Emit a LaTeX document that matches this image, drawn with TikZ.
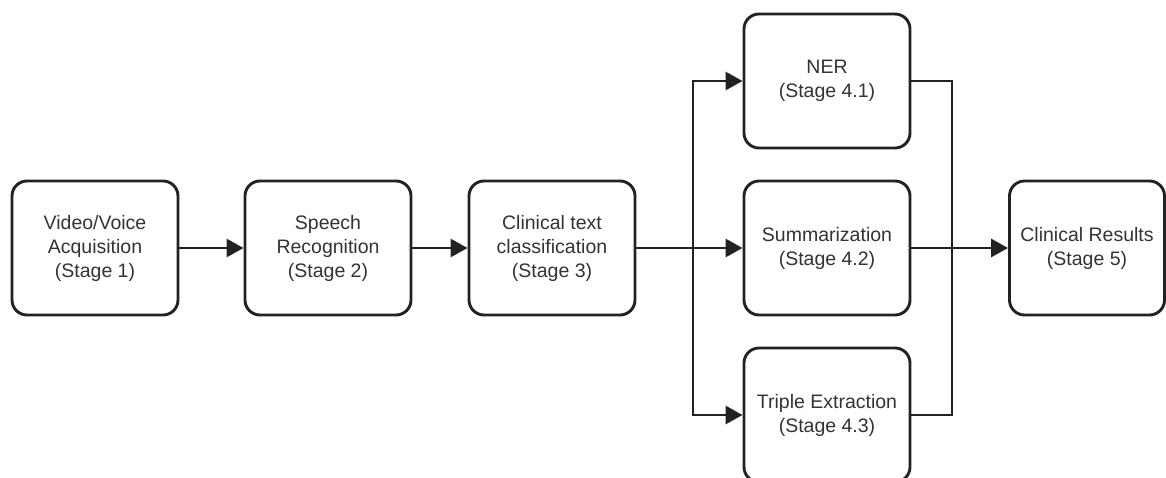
\documentclass[tikz,border=0pt]{standalone}
\usepackage{fontspec}
\setmainfont{Liberation Sans}
\usetikzlibrary{arrows.meta}
\definecolor{linec}{HTML}{222222}
\definecolor{textc}{HTML}{333333}
\tikzset{
  stagebox/.style={draw=linec, line width=2.9pt, rounded corners=15pt, fill=white,
    minimum width=166pt, minimum height=134pt, inner sep=0pt, align=center,
    text=textc, font=\fontsize{19.5pt}{24pt}\selectfont},
  conn/.style={draw=linec, line width=2.9pt},
  arr/.style={conn, -{Triangle[length=17pt,width=18pt]}},
}
\begin{document}
\begin{tikzpicture}[x=1pt,y=-1pt]
\useasboundingbox (0,0) rectangle (1166,477);
\node[stagebox] (s1) at (95,248) {Video/Voice\\Acquisition\\(Stage 1)};
\node[stagebox] (s2) at (328,248) {Speech\\Recognition\\(Stage 2)};
\node[stagebox] (s3) at (552,248) {Clinical text\\classification\\(Stage 3)};
\node[stagebox] (s41) at (827,81) {NER\\(Stage 4.1)};
\node[stagebox] (s42) at (827,248) {Summarization\\(Stage 4.2)};
\node[stagebox] (s43) at (827,415) {Triple Extraction\\(Stage 4.3)};
\node[stagebox, minimum width=155pt] (s5) at (1087,248) {Clinical Results\\(Stage 5)};
\coordinate (bl) at (693,248);
\coordinate (br) at (952,248);
\draw[arr] (s1) -- (s2);
\draw[arr] (s2) -- (s3);
\draw[arr] (s3) -- (s42);
\draw[arr] (bl |- s41) |- (s43.west);
\draw[arr] (bl) |- (s41.west);
\draw[conn] (s41.east) -| (br) |- (s43.east);
\draw[arr] (s42) -- (s5);
\end{tikzpicture}
\end{document}
